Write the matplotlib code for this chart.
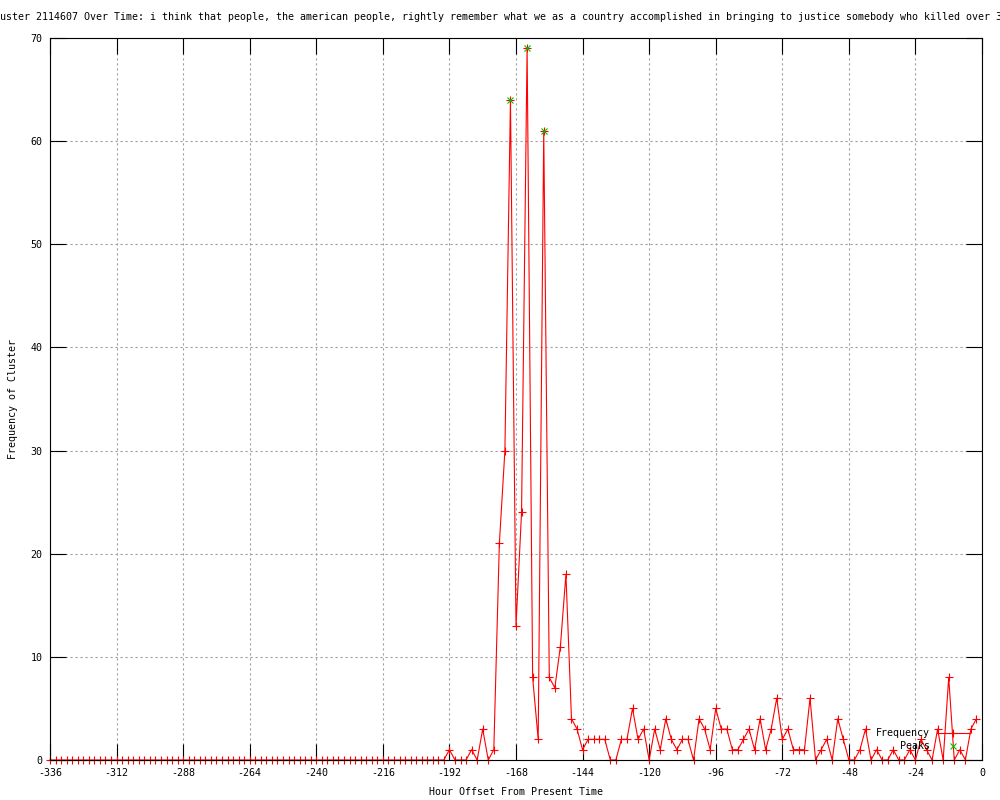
import numpy as np
import matplotlib
matplotlib.use('Agg')
import matplotlib.pyplot as plt

# ── Data ──────────────────────────────────────
HOURS = np.arange(-336, 0, 2)          # one sample every 2 hours

FREQ = [
    # -336 .. -194
    0, 0, 0, 0, 0, 0, 0, 0, 0, 0, 0, 0,
    0, 0, 0, 0, 0, 0, 0, 0, 0, 0, 0, 0,
    0, 0, 0, 0, 0, 0, 0, 0, 0, 0, 0, 0,
    0, 0, 0, 0, 0, 0, 0, 0, 0, 0, 0, 0,
    0, 0, 0, 0, 0, 0, 0, 0, 0, 0, 0, 0,
    0, 0, 0, 0, 0, 0, 0, 0, 0, 0, 0, 0,
    # -192 .. -2
    1, 0, 0, 0, 1, 0, 3, 0, 1,
    21, 30, 64, 13, 24, 69, 8, 2,
    61, 8, 7, 11, 18, 4, 3, 1,
    2, 2, 2, 2, 0, 0, 2, 2,
    5, 2, 3, 0, 3, 1, 4, 2,
    1, 2, 2, 0, 4, 3, 1, 5,
    3, 3, 1, 1, 2, 3, 1, 4,
    1, 3, 6, 2, 3, 1, 1, 1,
    6, 0, 1, 2, 0, 4, 2, 0,
    0, 1, 3, 0, 1, 0, 0, 1,
    0, 0, 1, 0, 2, 1, 0, 3,
    0, 8, 0, 1, 0, 3, 4,
]

PEAK_HOURS = [-170, -164, -158]
PEAK_FREQ  = [64, 69, 61]

X_TICKS = list(range(-336, 1, 24))
Y_TICKS = list(range(0, 71, 10))

TITLE = ("Cluster 2114607 Over Time: i think that people, the american people, "
         "rightly remember what we as a country accomplished in bringing to "
         "justice somebody who killed over 3")

# ── Style ─────────────────────────────────────
FS = 7.2
plt.rcParams['font.family'] = ['DejaVu Sans Mono']
plt.rcParams['font.size'] = FS
plt.rcParams['axes.unicode_minus'] = False

fig = plt.figure(figsize=(10, 8), dpi=100)
ax = fig.add_axes([0.05, 0.05, 0.932, 0.9025])

ax.plot(HOURS, FREQ, color='#ff0000', linewidth=0.8, marker='+',
        markersize=6, markeredgewidth=0.8, clip_on=False,
        label='Frequency')
ax.plot(PEAK_HOURS, PEAK_FREQ, linestyle='none', color='#00c000',
        marker='x', markersize=5, markeredgewidth=0.8, clip_on=False,
        label='    Peaks')

ax.set_xlim(-336, 0)
ax.set_ylim(0, 70)
ax.set_xticks(X_TICKS)
ax.set_yticks(Y_TICKS)

ax.grid(True, color='#a0a0a0', linestyle=(0, (2, 2.5)), linewidth=0.8)
ax.tick_params(direction='in', length=11.5, width=0.8, top=True, right=True,
               colors='black', labelsize=FS)
ax.tick_params(axis='x', pad=5.5)
ax.tick_params(axis='y', pad=5.5)
for sp in ax.spines.values():
    sp.set_linewidth(0.8)
    sp.set_color('black')

ax.set_xlabel('Hour Offset From Present Time', fontsize=FS)
ax.xaxis.set_label_coords(0.5, -0.038)
ax.set_ylabel('Frequency of Cluster', fontsize=FS)
ax.yaxis.set_label_coords(-0.034, 0.5)

# title is wider than the canvas in the original, clipped on both sides
fig.text(-0.012, 0.979, TITLE, ha='left', va='center', fontsize=FS)

ax.legend(loc='lower right', bbox_to_anchor=(0.987, 0.012), frameon=False,
          markerfirst=False, numpoints=1, handlelength=3.3,
          handletextpad=0.7, labelspacing=0.3, borderpad=0,
          borderaxespad=0, fontsize=FS)

fig.savefig('out.png', dpi=100)
plt.close(fig)
